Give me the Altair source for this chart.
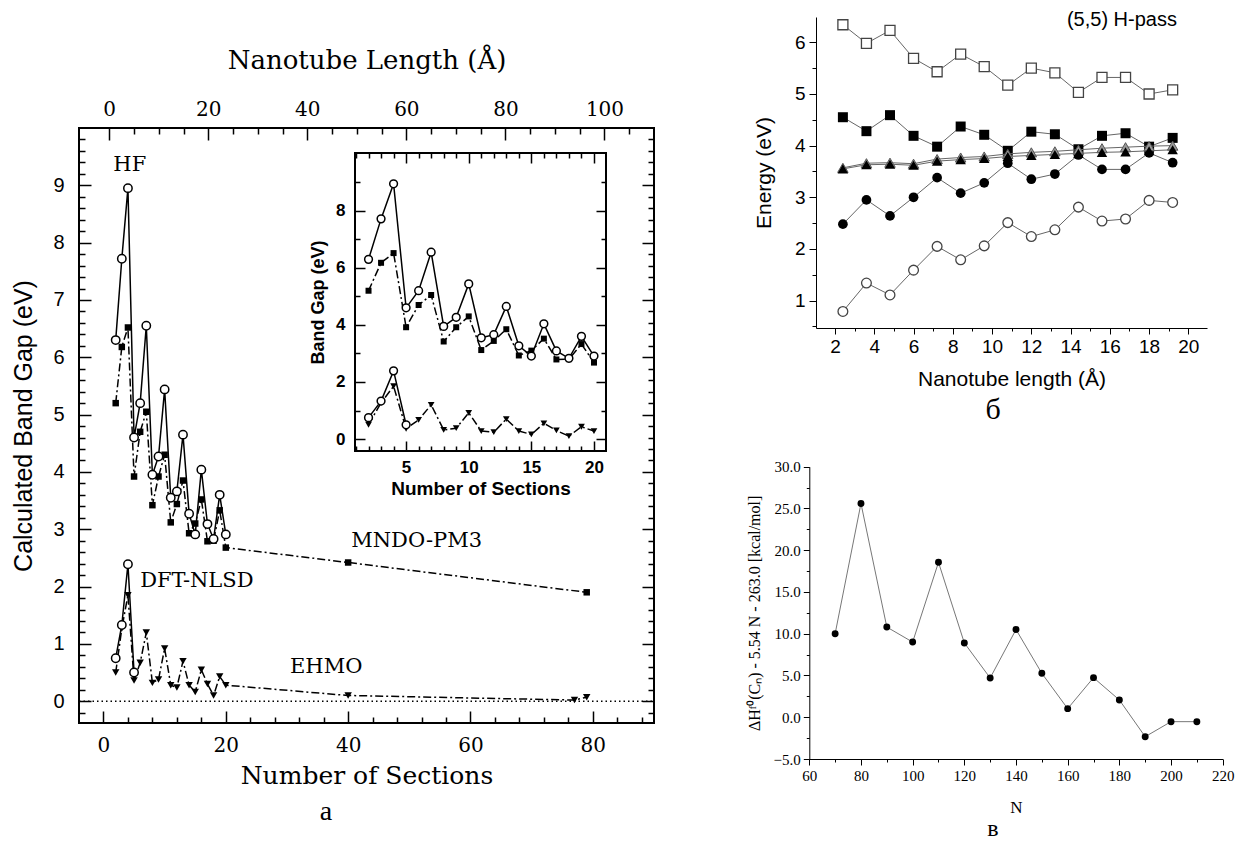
import altair as alt
import pandas as pd

# ---------------- panel a : band gap vs number of sections ----------------
sections = [2, 3, 4, 5, 6, 7, 8, 9, 10, 11, 12, 13, 14, 15, 16, 17, 18, 19, 20]
hf_gap = [6.30, 7.72, 8.95, 4.60, 5.20, 6.55, 3.95, 4.27, 5.44, 3.55, 3.66, 4.65,
          3.27, 2.91, 4.04, 3.09, 2.83, 3.60, 2.91]
mndo_sections = sections + [40, 79]
mndo_gap = [5.20, 6.18, 6.52, 3.92, 4.70, 5.05, 3.42, 3.92, 4.30, 3.12, 3.44, 3.85,
            2.93, 3.10, 3.52, 2.79, 2.80, 3.33, 2.68, 2.42, 1.90]
dft_sections = [2, 3, 4, 5]
dft_gap = [0.75, 1.33, 2.39, 0.50]
ehmo_sections = sections + [40, 77, 79]
ehmo_gap = [0.50, 1.27, 1.85, 0.36, 0.67, 1.20, 0.32, 0.38, 0.92, 0.28, 0.24, 0.70,
            0.28, 0.16, 0.55, 0.30, 0.10, 0.43, 0.28, 0.10, 0.02, 0.07]
a_labels = ["HF", "DFT-NLSD", "MNDO-PM3", "EHMO"]
a_label_x = [4.3, 6.0, 40.5, 30.5]
a_label_y = [9.35, 2.1, 2.8, 0.6]

# ---------------- panel б : (5,5) H-pass energies ----------------
length_b = [2.4, 3.6, 4.8, 6.0, 7.2, 8.4, 9.6, 10.8, 12.0, 13.2, 14.4, 15.6, 16.8, 18.0, 19.2]
open_sq = [6.34, 5.98, 6.23, 5.69, 5.43, 5.77, 5.53, 5.17, 5.50, 5.41, 5.03, 5.32, 5.32, 5.00, 5.08]
filled_sq = [4.55, 4.28, 4.59, 4.19, 3.98, 4.37, 4.21, 3.90, 4.27, 4.22, 3.93, 4.19, 4.24, 3.98, 4.15]
grey_tri = [3.57, 3.66, 3.67, 3.65, 3.74, 3.77, 3.79, 3.84, 3.87, 3.89, 3.92, 3.95, 3.97, 3.99, 4.00]
filled_tri = [3.55, 3.63, 3.64, 3.62, 3.70, 3.73, 3.75, 3.79, 3.81, 3.83, 3.85, 3.87, 3.88, 3.90, 3.92]
filled_circ = [2.48, 2.95, 2.64, 3.00, 3.38, 3.08, 3.28, 3.66, 3.35, 3.45, 3.82, 3.54, 3.54, 3.86, 3.67]
open_circ = [0.79, 1.34, 1.11, 1.59, 2.05, 1.79, 2.06, 2.51, 2.24, 2.37, 2.81, 2.54, 2.58, 2.94, 2.90]

# ---------------- panel в : heat of formation ----------------
n_atoms = [70, 80, 90, 100, 110, 120, 130, 140, 150, 160, 170, 180, 190, 200, 210]
dh_value = [10.0, 25.6, 10.8, 9.0, 18.55, 8.9, 4.7, 10.5, 5.26, 1.03, 4.74, 2.07, -2.33, -0.53, -0.53]

# ---------------- layout ----------------
W, H = 1231, 836


def sc(domain, rng):
    return alt.Scale(domain=domain, range=rng, nice=False, zero=False)


DXA, DYA, DXL = [-4, 90], [-0.38, 10.0], [-6.1, 110]
DXI, DYI = [0.92, 20.96], [-0.42, 10.03]
DXB, DYB = [1.03, 20.95], [0.47, 6.49]
DXC, DYC = [60, 220], [-5, 30]
XA, YA, XL = sc(DXA, [71, 646]), sc(DYA, [715, 120]), sc(DXL, [71, 646])
XI, YI = sc(DXI, [347, 598]), sc(DYI, [443, 145])
XB, YB = sc(DXB, [808, 1199]), sc(DYB, [320, 9])
XC, YC = sc(DXC, [801.3, 1214.7]), sc(DYC, [751, 458.7])

BASE_AX = dict(grid=False, zindex=1, labelFlush=False, labelOverlap=False,
               tickColor="black", labelColor="black", titleColor="black",
               domainColor="black")


def axis_x(scale, dom, title=None, **kw):
    opts = dict(BASE_AX)
    opts.update(kw)
    df = pd.DataFrame({"v": dom})
    return alt.Chart(df).mark_point(opacity=0).encode(
        x=alt.X("v:Q", scale=scale, axis=alt.Axis(**opts), title=title))


def axis_y(scale, dom, title=None, **kw):
    opts = dict(BASE_AX)
    opts.update(kw)
    df = pd.DataFrame({"v": dom})
    return alt.Chart(df).mark_point(opacity=0).encode(
        y=alt.Y("v:Q", scale=scale, axis=alt.Axis(**opts), title=title))


def series(xs, ys, xsc, ysc, line_kw, point_kw):
    df = pd.DataFrame({"x": xs, "y": ys})
    base = alt.Chart(df).encode(x=alt.X("x:Q", scale=xsc, axis=None),
                                y=alt.Y("y:Q", scale=ysc, axis=None))
    out = []
    if line_kw is not None:
        out.append(base.mark_line(**line_kw))
    out.append(base.mark_point(**point_kw))
    return out


def frame(xd, yd, xsc, ysc, **kw):
    df = pd.DataFrame({"x0": [xd[0]], "x1": [xd[1]], "y0": [yd[0]], "y1": [yd[1]]})
    return alt.Chart(df).mark_rect(**kw).encode(
        x=alt.X("x0:Q", scale=xsc, axis=None), x2="x1:Q",
        y=alt.Y("y0:Q", scale=ysc, axis=None), y2="y1:Q")


def caption(txt, px, py, **kw):
    df = pd.DataFrame({"t": [txt]})
    return alt.Chart(df).mark_text(**kw).encode(
        x=alt.value(px), y=alt.value(py), text="t:N")


DASHDOT = [8, 3, 2, 3]
solid = dict(color="black", strokeWidth=1.5)
dashdot = dict(color="black", strokeWidth=1.5, strokeDash=DASHDOT)


def circ(size):
    return dict(shape="circle", filled=True, fill="white", stroke="black",
                strokeWidth=1.5, size=size, opacity=1)


def sq(size):
    return dict(shape="square", filled=True, color="black", size=size, opacity=1)


def tri(size):
    return dict(shape="triangle-down", filled=True, color="black", size=size, opacity=1)


layers = []

# ---- panel a main ----
layers.append(frame(DXA, DYA, XA, YA, fillOpacity=0, stroke="black", strokeWidth=2))
zero_df = pd.DataFrame({"x0": [DXA[0]], "x1": [DXA[1]], "y": [0]})
layers.append(alt.Chart(zero_df).mark_rule(color="black", strokeWidth=1.5, strokeDash=[1.5, 3]).encode(
    x=alt.X("x0:Q", scale=XA, axis=None), x2="x1:Q", y=alt.Y("y:Q", scale=YA, axis=None)))
layers += series(mndo_sections, mndo_gap, XA, YA, dashdot, sq(42))
layers += series(ehmo_sections, ehmo_gap, XA, YA, dashdot, tri(55))
layers += series(sections, hf_gap, XA, YA, solid, circ(70))
layers += series(dft_sections, dft_gap, XA, YA, solid, circ(70))
lab_df = pd.DataFrame({"x": a_label_x, "y": a_label_y, "t": a_labels,
                       "al": ["center", "left", "left", "left"]})
layers.append(alt.Chart(lab_df[lab_df.al == "center"]).mark_text(
    font="DejaVu Serif", fontSize=21, align="center", baseline="middle", color="black").encode(
    x=alt.X("x:Q", scale=XA, axis=None), y=alt.Y("y:Q", scale=YA, axis=None), text="t:N"))
layers.append(alt.Chart(lab_df[lab_df.al == "left"]).mark_text(
    font="DejaVu Serif", fontSize=21, align="left", baseline="middle", color="black").encode(
    x=alt.X("x:Q", scale=XA, axis=None), y=alt.Y("y:Q", scale=YA, axis=None), text="t:N"))

# ---- panel a inset ----
layers.append(frame(DXI, DYI, XI, YI, fill="white", stroke="black", strokeWidth=2))
layers += series(sections, mndo_gap[:19], XI, YI, dashdot, sq(36))
layers += series(sections, ehmo_gap[:19], XI, YI, dashdot, tri(45))
layers += series(sections, hf_gap, XI, YI, solid, circ(60))
layers += series(dft_sections, dft_gap, XI, YI, solid, circ(60))

# ---- panel б ----
grey_line = dict(color="#666666", strokeWidth=1)
layers += series(length_b, open_sq, XB, YB, grey_line,
                 dict(shape="square", filled=True, fill="white", stroke="#444444", strokeWidth=1.3, size=100, opacity=1))
layers += series(length_b, filled_sq, XB, YB, grey_line,
                 dict(shape="square", filled=True, color="black", size=100, opacity=1))
layers += series(length_b, open_circ, XB, YB, grey_line,
                 dict(shape="circle", filled=True, fill="white", stroke="#444444", strokeWidth=1.3, size=95, opacity=1))
layers += series(length_b, filled_circ, XB, YB, grey_line,
                 dict(shape="circle", filled=True, color="black", size=95, opacity=1))
layers += series(length_b, grey_tri, XB, YB, grey_line,
                 dict(shape="triangle-up", filled=True, fill="#999999", stroke="#555555", strokeWidth=1, size=110, opacity=1))
layers += series(length_b, filled_tri, XB, YB, grey_line,
                 dict(shape="triangle-up", filled=True, color="black", size=110, opacity=1))
hp_df = pd.DataFrame({"x": [19.42], "y": [6.43], "t": ["(5,5) H-pass"]})
layers.append(alt.Chart(hp_df).mark_text(font="Liberation Sans", fontSize=20, align="right",
                                         baseline="middle", color="black").encode(
    x=alt.X("x:Q", scale=XB, axis=None), y=alt.Y("y:Q", scale=YB, axis=None), text="t:N"))

# ---- panel в ----
layers += series(n_atoms, dh_value, XC, YC, dict(color="#777777", strokeWidth=1),
                 dict(shape="circle", filled=True, color="black", size=48, opacity=1))

# ---- captions ----
layers.append(caption("a", 318, 804, font="Liberation Serif", fontSize=28, baseline="middle", color="black"))
layers.append(caption("б", 985, 402, font="Liberation Serif", fontSize=30, baseline="middle", color="black"))
layers.append(caption("в", 985, 821, font="Liberation Serif", fontSize=24, baseline="middle", color="black"))

# ---------------- axes ----------------
# panel a main
a_y_major = list(range(0, 10))
a_y_minor = [round(i * 0.2, 1) for i in range(-1, 50) if i % 5 != 0]
a_x_major = [0, 20, 40, 60, 80]
a_x_minor = [v for v in range(4, 90, 4) if v % 20]
a_len_major = [0, 20, 40, 60, 80, 100]
a_len_minor = [v for v in range(5, 110, 5) if v % 20]
layers.append(axis_y(YA, DYA, title="Calculated Band Gap (eV)", orient="left", offset=-83,
                     values=a_y_major, tickSize=12, tickWidth=1.5, domain=False, labelPadding=15,
                     labelFont="Liberation Sans", labelFontSize=20, titleFont="Liberation Sans",
                     titleFontSize=25, titleFontWeight="normal", titlePadding=16))
layers.append(axis_y(YA, DYA, orient="left", offset=-77, values=a_y_minor, tickSize=6,
                     tickWidth=1.5, domain=False, labels=False))
layers.append(axis_y(YA, DYA, orient="right", offset=634 - W, values=a_y_major, tickSize=12,
                     tickWidth=1.5, domain=False, labels=False))
layers.append(axis_y(YA, DYA, orient="right", offset=640 - W, values=a_y_minor, tickSize=6,
                     tickWidth=1.5, domain=False, labels=False))
layers.append(axis_x(XA, DXA, title="Number of Sections", orient="bottom", offset=703 - H,
                     values=a_x_major, tickSize=12, tickWidth=1.5, domain=False, labelPadding=12,
                     labelFont="DejaVu Serif", labelFontSize=20, titleFont="DejaVu Serif",
                     titleFontSize=25, titleFontWeight="normal", titlePadding=8))
layers.append(axis_x(XA, DXA, orient="bottom", offset=709 - H, values=a_x_minor, tickSize=6,
                     tickWidth=1.5, domain=False, labels=False))
layers.append(axis_x(XL, DXL, title="Nanotube Length (Å)", orient="top", offset=-132,
                     values=a_len_major, tickSize=12, tickWidth=1.5, domain=False, labelPadding=9,
                     labelFont="DejaVu Serif", labelFontSize=20, titleFont="DejaVu Serif",
                     titleFontSize=26, titleFontWeight="normal", titlePadding=26))
layers.append(axis_x(XL, DXL, orient="top", offset=-126, values=a_len_minor, tickSize=6,
                     tickWidth=1.5, domain=False, labels=False))

# panel a inset
i_y_major = [0, 2, 4, 6, 8]
i_y_minor = [1, 3, 5, 7, 9]
i_x_major = [5, 10, 15, 20]
i_x_minor = [v for v in range(1, 22) if v % 5]
layers.append(axis_y(YI, DYI, title="Band Gap (eV)", orient="left", offset=-357, values=i_y_major,
                     tickSize=10, tickWidth=1.5, domain=False, labelPadding=10,
                     labelFont="Liberation Sans", labelFontSize=17, labelFontWeight="bold",
                     titleFont="Liberation Sans", titleFontSize=18, titleFontWeight="bold",
                     titlePadding=8, minExtent=0))
layers.append(axis_y(YI, DYI, orient="left", offset=-352, values=i_y_minor, tickSize=5,
                     tickWidth=1.5, domain=False, labels=False))
layers.append(axis_y(YI, DYI, orient="right", offset=588 - W, values=i_y_major, tickSize=10,
                     tickWidth=1.5, domain=False, labels=False))
layers.append(axis_y(YI, DYI, orient="right", offset=593 - W, values=i_y_minor, tickSize=5,
                     tickWidth=1.5, domain=False, labels=False))
layers.append(axis_x(XI, DXI, title="Number of Sections", orient="bottom", offset=433 - H,
                     values=i_x_major, tickSize=10, tickWidth=1.5, domain=False, labelPadding=8,
                     labelFont="Liberation Sans", labelFontSize=17, labelFontWeight="bold",
                     titleFont="Liberation Sans", titleFontSize=19, titleFontWeight="bold",
                     titlePadding=4))
layers.append(axis_x(XI, DXI, orient="bottom", offset=438 - H, values=i_x_minor, tickSize=5,
                     tickWidth=1.5, domain=False, labels=False))
layers.append(axis_x(XI, DXI, orient="top", offset=-155, values=i_x_major, tickSize=10,
                     tickWidth=1.5, domain=False, labels=False))
layers.append(axis_x(XI, DXI, orient="top", offset=-150, values=i_x_minor, tickSize=5,
                     tickWidth=1.5, domain=False, labels=False))

# panel б
b_y_major = [1, 2, 3, 4, 5, 6]
b_y_minor = [0.5, 1.5, 2.5, 3.5, 4.5, 5.5]
b_x_major = [2, 4, 6, 8, 10, 12, 14, 16, 18, 20]
b_x_minor = [1, 3, 5, 7, 9, 11, 13, 15, 17, 19]
layers.append(axis_y(YB, DYB, title="Energy (eV)", orient="left", offset=-808, values=b_y_major,
                     tickSize=7, tickWidth=1, domain=True, domainWidth=1, labelPadding=4,
                     labelFont="Liberation Sans", labelFontSize=19, titleFont="Liberation Sans",
                     titleFontSize=21, titleFontWeight="normal", titlePadding=20))
layers.append(axis_y(YB, DYB, orient="left", offset=-808, values=b_y_minor, tickSize=4,
                     tickWidth=1, domain=False, labels=False))
layers.append(axis_x(XB, DXB, title="Nanotube length (Å)", orient="bottom", offset=320 - H,
                     values=b_x_major, tickSize=6, tickWidth=1, domain=True, domainWidth=1,
                     labelPadding=3, labelFont="Liberation Sans", labelFontSize=19,
                     titleFont="Liberation Sans", titleFontSize=21, titleFontWeight="normal",
                     titlePadding=12))
layers.append(axis_x(XB, DXB, orient="bottom", offset=320 - H, values=b_x_minor, tickSize=3,
                     tickWidth=1, domain=False, labels=False))

# panel в
c_y_major = [-5, 0, 5, 10, 15, 20, 25, 30]
c_y_minor = [-2.5, 2.5, 7.5, 12.5, 17.5, 22.5, 27.5]
c_x_major = [60, 80, 100, 120, 140, 160, 180, 200, 220]
c_x_minor = [70, 90, 110, 130, 150, 170, 190, 210]
layers.append(axis_y(YC, DYC, title="ΔH\u1da0⁰(Cₙ) - 5.54 N - 263.0 [kcal/mol]", orient="left",
                     offset=-801.3, values=c_y_major, format=".1f", tickSize=6, tickWidth=1,
                     domain=True, domainWidth=1, labelPadding=3, labelFont="Liberation Serif",
                     labelFontSize=15, titleFont="Liberation Serif", titleFontSize=16,
                     titleFontWeight="normal", titlePadding=11))
layers.append(axis_y(YC, DYC, orient="left", offset=-801.3, values=c_y_minor, tickSize=3,
                     tickWidth=1, domain=False, labels=False))
layers.append(axis_x(XC, DXC, title="N", orient="bottom", offset=751 - H, values=c_x_major,
                     tickSize=6, tickWidth=1, domain=True, domainWidth=1, labelPadding=3,
                     labelFont="Liberation Serif", labelFontSize=15, titleFont="Liberation Serif",
                     titleFontSize=17, titleFontWeight="normal", titlePadding=16))
layers.append(axis_x(XC, DXC, orient="bottom", offset=751 - H, values=c_x_minor, tickSize=3,
                     tickWidth=1, domain=False, labels=False))

chart = alt.layer(*layers).resolve_scale(x="independent", y="independent").resolve_axis(
    x="independent", y="independent").properties(
    width=W, height=H, autosize=alt.AutoSizeParams(type="none"), padding=0,
    background="white").configure_view(stroke=None)

chart.save("out.html", embed_options={"renderer": "svg", "actions": False})
